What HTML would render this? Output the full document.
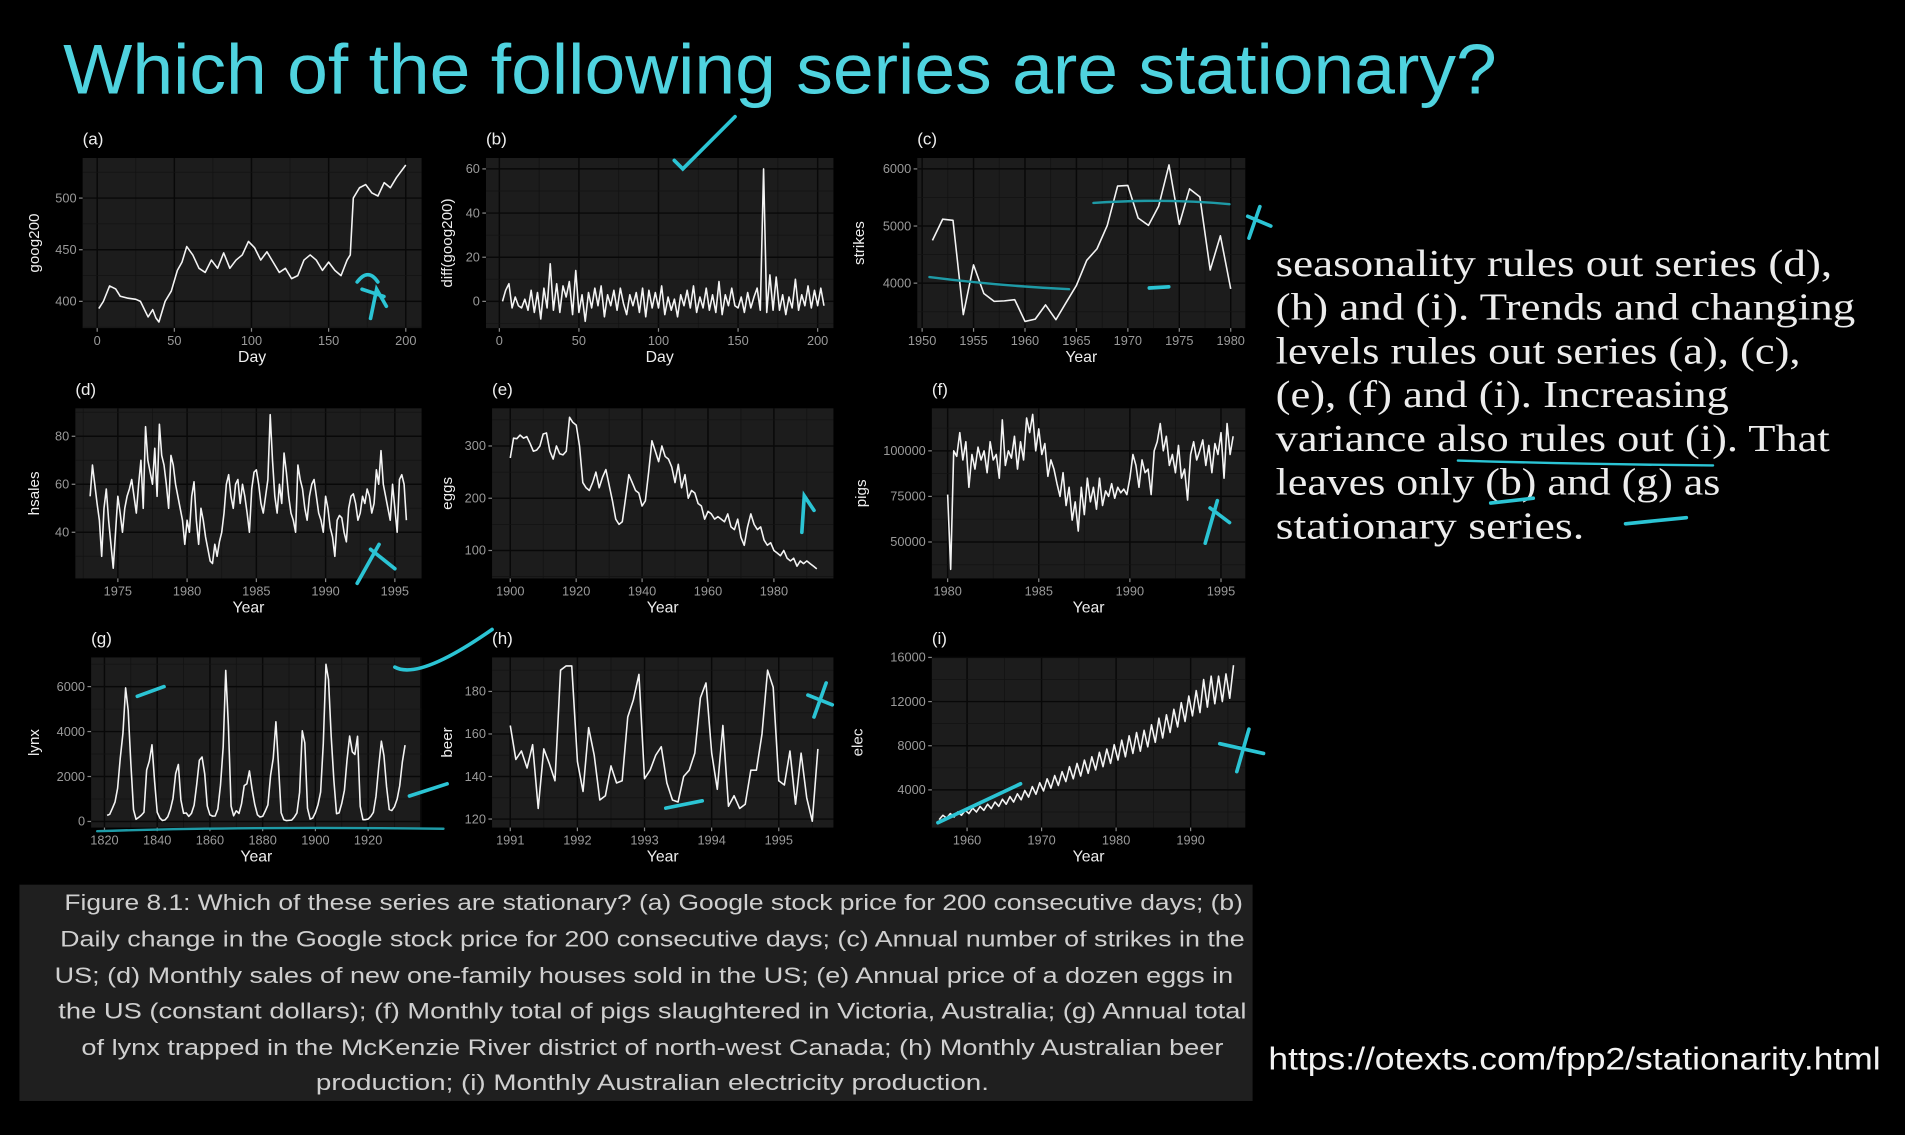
<!DOCTYPE html>
<html><head><meta charset="utf-8"><style>
html,body{margin:0;padding:0;background:#000;width:1905px;height:1135px;overflow:hidden}
svg{display:block}
</style></head><body>
<svg id="root" width="1905" height="1135" viewBox="0 0 1568 934" preserveAspectRatio="none" xmlns="http://www.w3.org/2000/svg">
<rect x="0" y="0" width="1568" height="934" fill="#000"/>
<text x="52" y="77" fill="#4fd3df" font-family="Liberation Sans, sans-serif" font-size="58" textLength="1180" lengthAdjust="spacingAndGlyphs">Which of the following series are stationary?</text>
<g id="charts"></g>
<g fill="#ececec" font-family="Liberation Serif, serif" font-size="31">
<text x="1050" y="227" textLength="458" lengthAdjust="spacingAndGlyphs">seasonality rules out series (d),</text>
<text x="1050" y="263" textLength="477" lengthAdjust="spacingAndGlyphs">(h) and (i). Trends and changing</text>
<text x="1050" y="299" textLength="432" lengthAdjust="spacingAndGlyphs">levels rules out series (a), (c),</text>
<text x="1050" y="335" textLength="373" lengthAdjust="spacingAndGlyphs">(e), (f) and (i). Increasing</text>
<text x="1050" y="371" textLength="456" lengthAdjust="spacingAndGlyphs">variance also rules out (i). That</text>
<text x="1050" y="407" textLength="366" lengthAdjust="spacingAndGlyphs">leaves only (b) and (g) as</text>
<text x="1050" y="443" textLength="254" lengthAdjust="spacingAndGlyphs">stationary series.</text>
</g>
<rect x="16" y="728" width="1015" height="178" fill="#1f1f1f"/>
<g fill="#cfcfcf" font-family="Liberation Sans, sans-serif" font-size="18" text-anchor="middle">
<text x="538" y="749" textLength="970" lengthAdjust="spacingAndGlyphs">Figure 8.1: Which of these series are stationary? (a) Google stock price for 200 consecutive days; (b)</text>
<text x="537" y="779" textLength="975" lengthAdjust="spacingAndGlyphs">Daily change in the Google stock price for 200 consecutive days; (c) Annual number of strikes in the</text>
<text x="530" y="809" textLength="970" lengthAdjust="spacingAndGlyphs">US; (d) Monthly sales of new one-family houses sold in the US; (e) Annual price of a dozen eggs in</text>
<text x="537" y="838" textLength="978" lengthAdjust="spacingAndGlyphs">the US (constant dollars); (f) Monthly total of pigs slaughtered in Victoria, Australia; (g) Annual total</text>
<text x="537" y="868" textLength="940" lengthAdjust="spacingAndGlyphs">of lynx trapped in the McKenzie River district of north-west Canada; (h) Monthly Australian beer</text>
<text x="537" y="897" textLength="554" lengthAdjust="spacingAndGlyphs">production; (i) Monthly Australian electricity production.</text>
</g>
<text x="1044" y="880" fill="#f2f2f2" font-family="Liberation Sans, sans-serif" font-size="26" textLength="504" lengthAdjust="spacingAndGlyphs">https://otexts.com/fpp2/stationarity.html</text>
<g fill="none" stroke="#2bc4d4" stroke-width="3" stroke-linecap="round">
<path d="M555,132 L562,139 L605,96"/>
<path d="M294,232 Q303,220 311,232"/><path d="M305,262 L310,238 L318,252 M298,238 L316,244"/>
<path d="M900,167 Q960,163 1012,168" stroke="#1e9aa6" stroke-width="2"/>
<path d="M765,228 Q820,235 880,238" stroke="#1e9aa6" stroke-width="2"/>
<path d="M946,237 L962,236"/>
<path d="M1028,196 L1037,170 M1027,178 L1046,186"/>
<path d="M294,480 L312,448 M305,452 L325,468"/>
<path d="M660,438 L662,408 L670,420"/>
<path d="M992,447 L1002,412 M996,418 L1012,430"/>
<path d="M113,573 L135,565"/>
<path d="M325,549 Q345,560 405,518"/>
<path d="M337,655 L368,645"/>
<path d="M80,684 Q200,680 365,682" stroke="#1e9aa6" stroke-width="2"/>
<path d="M548,665 L578,659"/>
<path d="M670,590 L680,562 M665,572 L685,580"/>
<path d="M1018,635 L1028,600 M1004,612 L1040,620"/>
<path d="M772,677 L840,645"/>
<path d="M1200,379 Q1300,382 1410,383" stroke-width="2"/>
<path d="M1227,414 L1262,410"/>
<path d="M1338,431 L1388,426"/>
</g>
</svg>
<script>
const googDays = [1,4,8,12,15,20,25,28,33,36,38,40,44,48,52,55,58,62,66,70,74,78,82,86,90,94,98,102,106,110,114,118,122,126,130,134,138,142,146,150,154,158,162,164,166,170,174,178,182,186,190,194,198,200];
const googVals = [393,400,415,412,405,403,402,400,385,392,384,380,400,410,430,438,453,445,432,428,440,432,447,432,440,445,458,452,440,448,438,428,432,422,425,440,445,440,430,438,430,425,440,445,500,510,513,505,502,515,510,520,528,532];
const diffVals = [0,5,8,-3,2,-2,-3,1,-4,5,-5,4,-8,6,-3,17,-4,8,-5,7,2,9,-6,14,-5,3,-9,4,-3,6,-2,7,-7,3,-2,5,-4,6,-1,-6,3,-2,4,-5,6,-7,5,-3,4,-3,7,-6,2,-4,1,-7,3,-2,5,-3,7,-5,2,-3,6,-4,3,-5,9,-6,3,-2,6,-2,-3,2,-5,4,-3,2,6,-4,60,-5,12,-4,11,-4,3,-6,2,-3,10,-4,3,-2,7,-3,5,-2,6,-2];
const strikeVals = [4750,5120,5100,3450,4320,3820,3680,3690,3710,3330,3370,3620,3360,3660,3960,4400,4600,5010,5700,5710,5140,5010,5350,6070,5030,5650,5510,4230,4830,3900];
const hsalesVals = [55,68,60,52,45,30,50,58,45,35,25,40,55,48,40,50,55,58,62,55,48,60,70,50,84,70,65,60,75,55,85,72,68,60,50,72,68,60,55,50,45,35,45,40,55,61,45,35,50,45,38,33,28,27,35,30,36,40,48,60,64,55,50,60,62,52,60,55,48,40,58,65,66,60,52,48,55,62,89,70,55,48,60,52,73,65,55,48,45,40,68,62,58,50,45,55,60,62,55,48,45,40,55,50,42,38,30,45,47,46,40,36,50,55,56,52,45,48,55,52,58,55,48,52,66,60,74,60,55,50,45,60,50,40,62,64,60,45];
const eggVals = [277,315,314,321,315,318,305,290,292,300,323,325,290,275,300,285,283,290,355,345,340,300,230,220,215,230,250,220,240,255,225,195,160,150,155,200,245,230,215,210,185,195,250,310,290,270,300,280,275,260,230,265,220,245,200,215,210,190,185,160,175,170,160,165,160,155,170,145,140,160,125,110,145,170,150,140,145,120,110,115,100,95,90,100,85,80,85,70,80,75,80,75,70,65];
const pigVals = [76000,35000,100000,97000,110000,95000,105000,80000,98000,90000,102000,95000,100000,88000,105000,95000,98000,85000,117000,92000,100000,96000,108000,90000,105000,95000,118000,110000,120000,100000,112000,98000,104000,86000,95000,90000,82000,75000,88000,70000,80000,62000,72000,56000,80000,65000,85000,72000,80000,68000,85000,70000,78000,75000,82000,74000,80000,77000,79000,76000,85000,98000,92000,80000,95000,88000,90000,76000,100000,105000,115000,100000,108000,92000,98000,88000,103000,85000,90000,73000,98000,105000,95000,100000,106000,92000,103000,88000,104000,98000,110000,85000,115000,98000,108000];
const lynxVals = [269,321,585,871,1475,2821,3928,5943,4950,2577,523,98,184,279,409,2285,2685,3409,1824,409,151,45,68,213,546,1033,2129,2536,957,361,377,225,360,731,1638,2725,2871,2119,684,299,236,245,552,1623,3311,6721,4254,687,255,473,358,784,1594,1676,2251,1426,756,299,201,229,469,736,2042,2811,4431,2511,389,73,39,49,59,188,377,1292,4031,3495,587,105,153,387,758,1307,3465,6991,6313,3794,1836,345,382,808,1388,2713,3800,3091,2985,3790,674,81,80,108,229,399,1132,2432,3574,2935,1537,529,485,662,1000,1590,2657,3396];
const beerVals = [164,148,152,144,155,125,153,146,138,190,192,192,147,133,163,150,129,131,145,137,138,168,176,188,139,143,150,154,137,129,128,140,143,151,177,184,151,134,164,126,131,125,127,143,143,160,190,182,138,136,152,127,151,130,119,153];
const elecVals = [1300,1700,1450,1850,1550,2000,1700,2150,1850,2350,2000,2500,2150,2700,2300,2900,2500,3150,2700,3400,2900,3650,3100,3950,3350,4300,3600,4650,3900,5000,4150,5300,4400,5650,4750,6100,5000,6400,5250,6700,5500,7000,5800,7400,6100,7700,6400,8100,6700,8500,7000,8900,7300,9200,7500,9400,7900,9900,8300,10500,8700,10800,9200,11300,9700,11900,10200,12500,10700,13000,11000,14000,11500,14300,11800,14300,12000,14500,12300,15300];

const googTicksX = [0,50,100,150,200], googTicksY = [400,450,500];
const diffTicksY = [0,20,40,60];
const strikeTicksX = [1950,1955,1960,1965,1970,1975,1980], strikeTicksY = [4000,5000,6000];
const hsTicksX = [1975,1980,1985,1990,1995], hsTicksY = [40,60,80];
const eggTicksX = [1900,1920,1940,1960,1980], eggTicksY = [100,200,300];
const pigTicksX = [1980,1985,1990,1995], pigTicksY = [50000,75000,100000];
const lynxTicksX = [1820,1840,1860,1880,1900,1920], lynxTicksY = [0,2000,4000,6000];
const beerTicksX = [1991,1992,1993,1994,1995], beerTicksY = [120,140,160,180];
const elecTicksX = [1960,1970,1980,1990], elecTicksY = [4000,8000,12000,16000];

const NS='http://www.w3.org/2000/svg';
const root=document.getElementById('charts');
function mk(tag,attrs,parent){const e=document.createElementNS(NS,tag);for(const k in attrs)e.setAttribute(k,attrs[k]);parent.appendChild(e);return e;}
function lin(v1,p1,v2,p2){return v=>p1+(v-v1)*(p2-p1)/(v2-v1);}

function panel(p){
  const g=mk('g',{},root);
  
  
  const X=lin(p.xa[0],p.xa[1],p.xa[2],p.xa[3]);
  const Y=lin(p.ya[0],p.ya[1],p.ya[2],p.ya[3]);
  const bg=mk('rect',{x:p.r[0],y:p.r[1],width:p.r[2]-p.r[0],height:p.r[3]-p.r[1],fill:'#1c1c1c'},g);
  
  
  const xt=p.xt, yt=p.yt;
  const dx=xt[1]-xt[0], dy=yt[1]-yt[0];
  for(let v=xt[0]-dx/2; v<=xt[xt.length-1]+dx; v+=dx/2){
    const px=X(v); if(px<p.r[0]||px>p.r[2])continue;
    const major=Math.abs(((v-xt[0])/dx)%1)<1e-6;
    mk('line',{x1:px,x2:px,y1:p.r[1],y2:p.r[3],stroke:major?'#080808':'#121212','stroke-width':major?1.2:0.6},g);
  }
  for(let v=yt[0]-dy; v<=yt[yt.length-1]+dy; v+=dy/2){
    const py=Y(v); if(py<p.r[1]||py>p.r[3])continue;
    const major=Math.abs(((v-yt[0])/dy)%1)<1e-6;
    mk('line',{x1:p.r[0],x2:p.r[2],y1:py,y2:py,stroke:major?'#080808':'#121212','stroke-width':major?1.2:0.6},g);
  }
  xt.forEach(v=>{
    const px=X(v);
    mk('line',{x1:px,x2:px,y1:p.r[3],y2:p.r[3]+3,stroke:'#888'},g);
    const t=mk('text',{x:px,y:p.r[3]+14,fill:'#9a9a9a','font-size':10.5,'font-family':'Liberation Sans, sans-serif','text-anchor':'middle'},g);
    
    
    t.textContent=v;
  });
  yt.forEach(v=>{
    const py=Y(v);
    mk('line',{x1:p.r[0]-3,x2:p.r[0],y1:py,y2:py,stroke:'#888'},g);
    const t=mk('text',{x:p.r[0]-5,y:py+3.5,fill:'#9a9a9a','font-size':10.5,'font-family':'Liberation Sans, sans-serif','text-anchor':'end'},g);
    
    
    t.textContent=v;
  });
  let d='';
  p.ys.forEach((v,i)=>{d+=(i?'L':'M')+X(p.xs(i)).toFixed(1)+','+Y(v).toFixed(1);});
  const ln=mk('path',{d:d,fill:'none',stroke:'#f4f4f4','stroke-width':1.3,'stroke-linejoin':'round'},g);
  
  
  const lab=mk('text',{x:p.r[0],y:p.r[1]-11,fill:'#eee','font-size':14,'font-family':'Liberation Sans, sans-serif'},g);
  
  
  lab.textContent='('+p.key+')';
  const xl=mk('text',{x:(p.r[0]+p.r[2])/2+p.xlo,y:p.r[3]+28,fill:'#eee','font-size':13,'font-family':'Liberation Sans, sans-serif','text-anchor':'middle'},g);
  
  
  xl.textContent=p.xlab;
  const cy=(p.r[1]+p.r[3])/2;
  const yl=mk('text',{x:p.ylx,y:cy,fill:'#eee','font-size':12.5,'font-family':'Liberation Sans, sans-serif','text-anchor':'middle',transform:'rotate(-90 '+p.ylx+' '+cy+')'},g);
  
  
  yl.textContent=p.ylab;
}

panel({key:'a',r:[68,130,347,270],xa:[0,80,200,334],ya:[400,248,500,163],xt:googTicksX,yt:googTicksY,xs:i=>googDays[i],ys:googVals,xlab:'Day',xlo:0,ylab:'goog200',ylx:32});
panel({key:'b',r:[400,130,686,270],xa:[0,411,200,673],ya:[0,248,60,139],xt:googTicksX,yt:diffTicksY,xs:i=>2*(i+1),ys:diffVals,xlab:'Day',xlo:0,ylab:'diff(goog200)',ylx:372});
panel({key:'c',r:[755,130,1025,270],xa:[1950,759,1980,1013],ya:[4000,233,6000,139],xt:strikeTicksX,yt:strikeTicksY,xs:i=>1951+i,ys:strikeVals,xlab:'Year',xlo:0,ylab:'strikes',ylx:711});
panel({key:'d',r:[62,336,347,476],xa:[1975,97,1995,325],ya:[40,438,80,359],xt:hsTicksX,yt:hsTicksY,xs:i=>1973+i/6,ys:hsalesVals,xlab:'Year',xlo:0,ylab:'hsales',ylx:32});
panel({key:'e',r:[405,336,686,476],xa:[1900,420,1980,637],ya:[100,453,300,367],xt:eggTicksX,yt:eggTicksY,xs:i=>1900+i,ys:eggVals,xlab:'Year',xlo:0,ylab:'eggs',ylx:372});
panel({key:'f',r:[767,336,1025,476],xa:[1980,780,1995,1005],ya:[50000,446,100000,371],xt:pigTicksX,yt:pigTicksY,xs:i=>1980+i/6,ys:pigVals,xlab:'Year',xlo:0,ylab:'pigs',ylx:713});
panel({key:'g',r:[75,541,347,681],xa:[1820,86,1920,303],ya:[0,676,6000,565],xt:lynxTicksX,yt:lynxTicksY,xs:i=>1821+i,ys:lynxVals,xlab:'Year',xlo:0,ylab:'lynx',ylx:32});
panel({key:'h',r:[405,541,686,681],xa:[1991,420,1995,641],ya:[120,674,180,569],xt:beerTicksX,yt:beerTicksY,xs:i=>1991+i/12,ys:beerVals,xlab:'Year',xlo:0,ylab:'beer',ylx:372});
panel({key:'i',r:[767,541,1025,681],xa:[1960,796,1990,980],ya:[4000,650,16000,541],xt:elecTicksX,yt:elecTicksY,xs:i=>1956.25+i/2,ys:elecVals,xlab:'Year',xlo:0,ylab:'elec',ylx:710});
</script>
</body></html>
